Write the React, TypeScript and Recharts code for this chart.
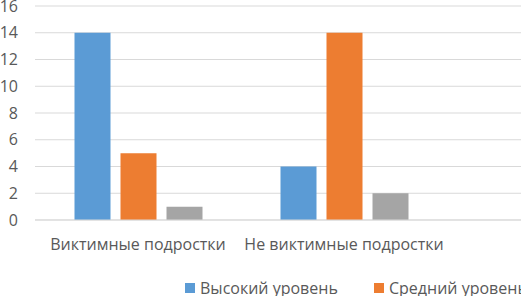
import React from 'react';
import { BarChart, Bar, XAxis, YAxis, CartesianGrid, Legend } from 'recharts';

const categories = ['Виктимные подростки', 'Не виктимные подростки', ''];
const highLevel: (number | null)[] = [14, 4, null];
const midLevel: (number | null)[] = [5, 14, null];
const lowLevel: (number | null)[] = [1, 2, null];
const yTicks = [0, 2, 4, 6, 8, 10, 12, 14, 16];
const seriesNames = ['Высокий уровень', 'Средний уровень', 'Низкий уровень'];
const seriesColors = ['#5b9bd5', '#ed7d31', '#a5a5a5'];

const data = categories.map((name, i) => ({
  name,
  high: highLevel[i],
  mid: midLevel[i],
  low: lowLevel[i],
}));

const FONT = '"Open Sans", sans-serif';
const TEXT = '#595959';

const renderLegend = () => (
  <div style={{ display: 'flex', fontFamily: FONT, fontSize: 16, color: TEXT, whiteSpace: 'nowrap', height: 20, lineHeight: '20px' }}>
    {seriesNames.map((name, i) => (
      <div key={name} style={{ display: 'flex', alignItems: 'center', width: 189, flex: '0 0 189px' }}>
        <span style={{ display: 'inline-block', width: 10, height: 10, background: seriesColors[i], marginRight: 5 }} />
        <span>{name}</span>
      </div>
    ))}
  </div>
);

export default function App() {
  return (
    <div style={{ position: 'fixed', left: 0, top: 0, width: 521, height: 296, overflow: 'hidden', background: '#fff' }}>
      <BarChart
        width={653}
        height={296}
        data={data}
        margin={{ top: 6, right: 0, bottom: 0, left: 0 }}
        barCategoryGap={39.5}
        barGap={10}
      >
        <CartesianGrid vertical={false} stroke="#d9d9d9" strokeWidth={1} />
        <XAxis
          dataKey="name"
          height={56}
          axisLine={{ stroke: '#d9d9d9' }}
          tickLine={false}
          tickSize={0}
          tickMargin={19}
          interval={0}
          tick={{ fill: TEXT, fontSize: 16, fontFamily: FONT }}
        />
        <YAxis
          width={35}
          domain={[0, 16]}
          ticks={yTicks}
          interval={0}
          axisLine={false}
          tickLine={false}
          tickSize={0}
          tickMargin={17}
          tick={{ fill: TEXT, fontSize: 16, fontFamily: FONT }}
        />
        <Legend
          content={renderLegend}
          wrapperStyle={{ left: 185, top: 278, width: 600, height: 20 }}
        />
        <Bar dataKey="high" name={seriesNames[0]} fill={seriesColors[0]} isAnimationActive={false} />
        <Bar dataKey="mid" name={seriesNames[1]} fill={seriesColors[1]} isAnimationActive={false} />
        <Bar dataKey="low" name={seriesNames[2]} fill={seriesColors[2]} isAnimationActive={false} />
      </BarChart>
    </div>
  );
}
